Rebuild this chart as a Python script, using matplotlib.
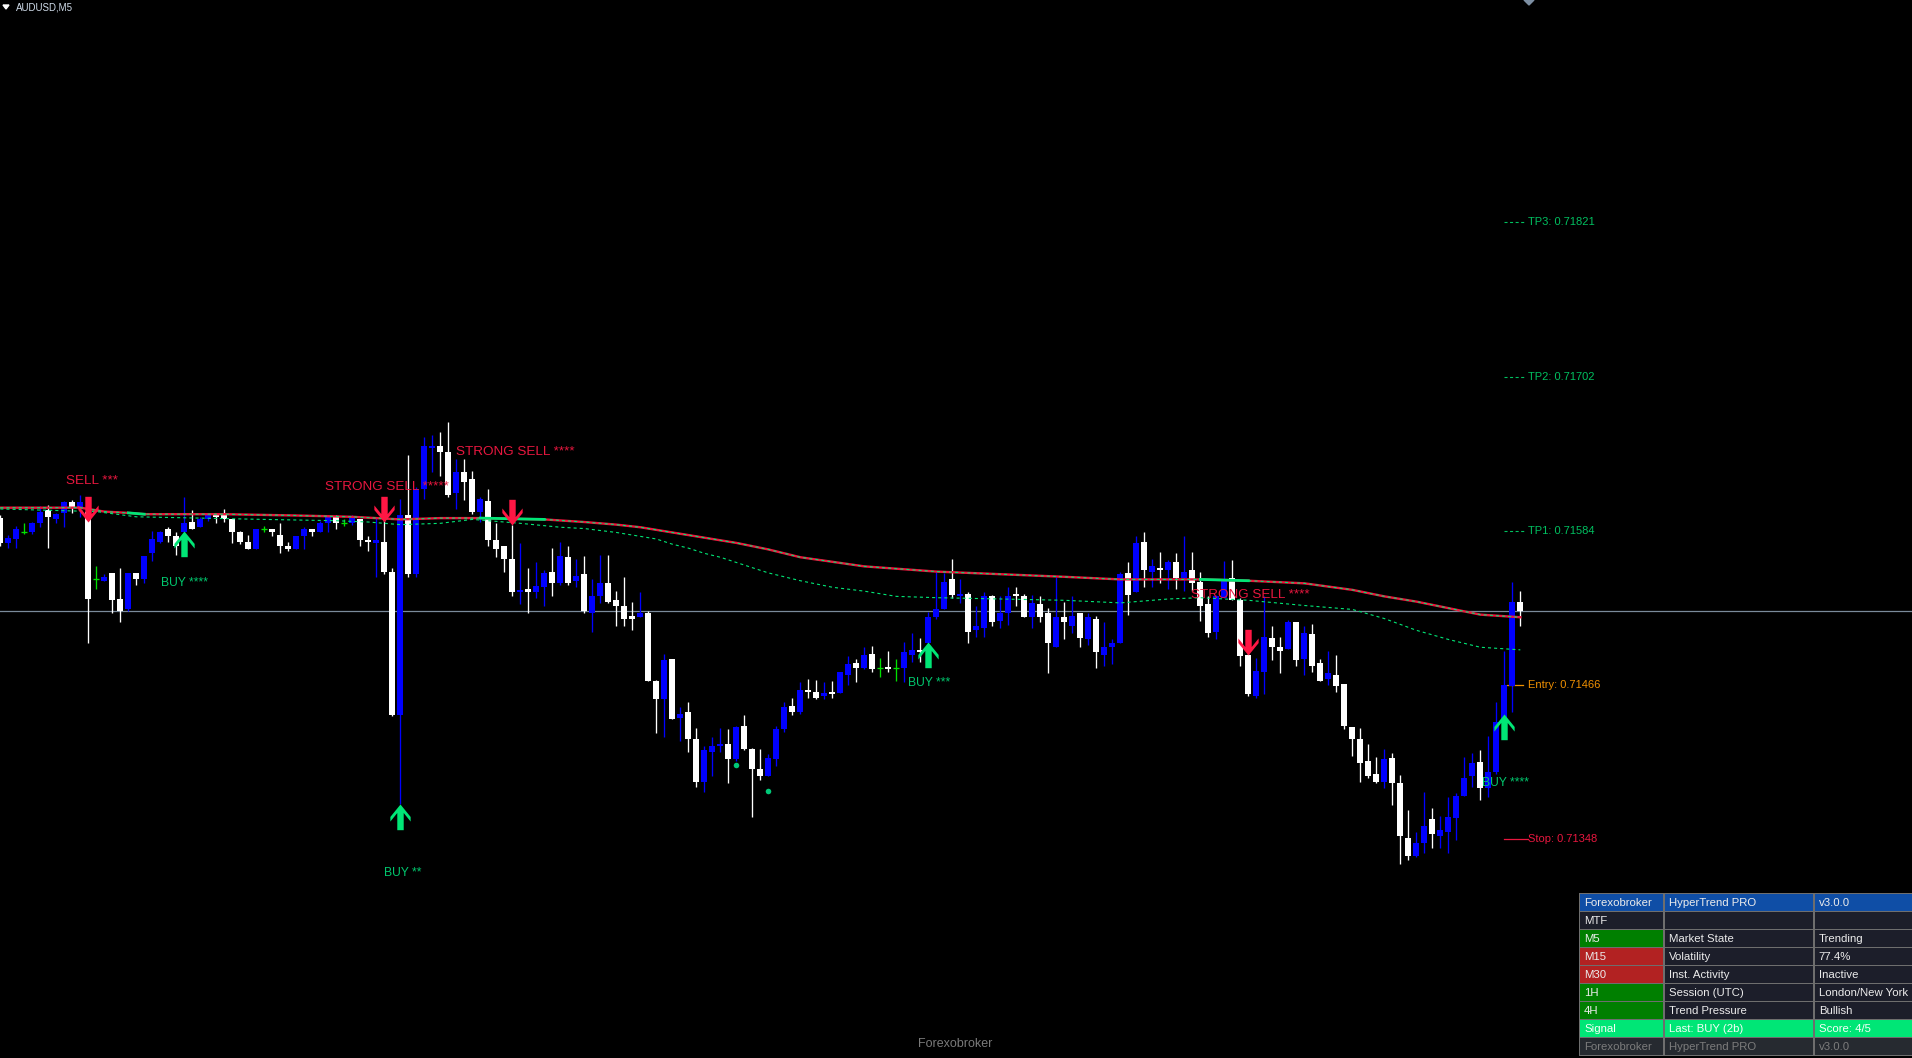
import numpy as np
import matplotlib.pyplot as plt
from matplotlib.path import Path
from matplotlib.patches import Rectangle, Polygon

plt.rcParams['font.family'] = ['Liberation Sans', 'DejaVu Sans']
plt.rcParams['lines.scale_dashes'] = False

# ---------------- data (AUDUSD M5) ----------------
opens = [
    0.71594, 0.71575, 0.71578, 0.71583, 0.71583, 0.71590, 0.71600, 0.71593, 0.71598, 0.71606,
    0.71602, 0.71599, 0.71547, 0.71546, 0.71552, 0.71532, 0.71524, 0.71552, 0.71547, 0.71567,
    0.71576, 0.71586, 0.71580, 0.71583, 0.71591, 0.71587, 0.71593, 0.71596, 0.71596, 0.71593,
    0.71583, 0.71576, 0.71570, 0.71586, 0.71586, 0.71581, 0.71573, 0.71570, 0.71580, 0.71586,
    0.71583, 0.71590, 0.71595, 0.71590, 0.71590, 0.71593, 0.71577, 0.71575, 0.71576, 0.71553,
    0.71443, 0.71596, 0.71551, 0.71616, 0.71648, 0.71649, 0.71645, 0.71613, 0.71629, 0.71624,
    0.71599, 0.71607, 0.71577, 0.71573, 0.71563, 0.71537, 0.71540, 0.71537, 0.71541, 0.71553,
    0.71544, 0.71564, 0.71546, 0.71551, 0.71521, 0.71534, 0.71544, 0.71531, 0.71527, 0.71519,
    0.71518, 0.71521, 0.71469, 0.71455, 0.71486, 0.71441, 0.71445, 0.71425, 0.71392, 0.71415,
    0.71419, 0.71421, 0.71409, 0.71435, 0.71417, 0.71402, 0.71396, 0.71409, 0.71432, 0.71450,
    0.71445, 0.71462, 0.71461, 0.71458, 0.71461, 0.71460, 0.71474, 0.71483, 0.71479, 0.71490,
    0.71479, 0.71480, 0.71479, 0.71479, 0.71489, 0.71493, 0.71498, 0.71518, 0.71524, 0.71547,
    0.71534, 0.71536, 0.71508, 0.71510, 0.71534, 0.71515, 0.71521, 0.71536, 0.71534, 0.71518,
    0.71528, 0.71521, 0.71495, 0.71518, 0.71511, 0.71521, 0.71501, 0.71517, 0.71489, 0.71495,
    0.71498, 0.71552, 0.71537, 0.71576, 0.71553, 0.71556, 0.71554, 0.71560, 0.71548, 0.71554,
    0.71545, 0.71528, 0.71507, 0.71533, 0.71548, 0.71531, 0.71489, 0.71458, 0.71476, 0.71502,
    0.71495, 0.71494, 0.71514, 0.71486, 0.71505, 0.71483, 0.71471, 0.71474, 0.71467, 0.71434,
    0.71425, 0.71408, 0.71398, 0.71392, 0.71410, 0.71391, 0.71349, 0.71335, 0.71345, 0.71363,
    0.71350, 0.71353, 0.71364, 0.71381, 0.71396, 0.71407, 0.71387, 0.71399, 0.71438, 0.71465,
    0.71530]
highs = [
    0.71596, 0.71581, 0.71588, 0.71590, 0.71591, 0.71603, 0.71604, 0.71598, 0.71607, 0.71608,
    0.71612, 0.71602, 0.71557, 0.71551, 0.71552, 0.71556, 0.71552, 0.71552, 0.71565, 0.71584,
    0.71584, 0.71587, 0.71583, 0.71610, 0.71600, 0.71595, 0.71597, 0.71597, 0.71601, 0.71593,
    0.71584, 0.71581, 0.71586, 0.71588, 0.71586, 0.71590, 0.71576, 0.71580, 0.71587, 0.71586,
    0.71592, 0.71596, 0.71596, 0.71593, 0.71596, 0.71593, 0.71580, 0.71595, 0.71593, 0.71556,
    0.71609, 0.71642, 0.71618, 0.71656, 0.71658, 0.71660, 0.71668, 0.71639, 0.71639, 0.71630,
    0.71610, 0.71616, 0.71590, 0.71573, 0.71589, 0.71575, 0.71556, 0.71560, 0.71554, 0.71571,
    0.71576, 0.71573, 0.71563, 0.71565, 0.71547, 0.71566, 0.71566, 0.71538, 0.71549, 0.71530,
    0.71537, 0.71523, 0.71470, 0.71490, 0.71486, 0.71449, 0.71453, 0.71433, 0.71419, 0.71426,
    0.71433, 0.71432, 0.71435, 0.71443, 0.71418, 0.71417, 0.71413, 0.71435, 0.71453, 0.71456,
    0.71468, 0.71471, 0.71470, 0.71468, 0.71469, 0.71476, 0.71488, 0.71486, 0.71495, 0.71496,
    0.71487, 0.71492, 0.71486, 0.71499, 0.71506, 0.71502, 0.71522, 0.71553, 0.71552, 0.71563,
    0.71547, 0.71537, 0.71527, 0.71537, 0.71535, 0.71534, 0.71541, 0.71541, 0.71536, 0.71535,
    0.71534, 0.71525, 0.71549, 0.71530, 0.71534, 0.71521, 0.71521, 0.71519, 0.71514, 0.71501,
    0.71553, 0.71560, 0.71580, 0.71583, 0.71563, 0.71568, 0.71562, 0.71567, 0.71580, 0.71568,
    0.71553, 0.71534, 0.71535, 0.71561, 0.71562, 0.71533, 0.71501, 0.71487, 0.71534, 0.71511,
    0.71503, 0.71516, 0.71514, 0.71511, 0.71513, 0.71486, 0.71492, 0.71489, 0.71467, 0.71434,
    0.71433, 0.71421, 0.71411, 0.71417, 0.71414, 0.71397, 0.71370, 0.71353, 0.71384, 0.71372,
    0.71366, 0.71380, 0.71383, 0.71411, 0.71414, 0.71416, 0.71427, 0.71453, 0.71492, 0.71545,
    0.71538]
lows = [
    0.71573, 0.71571, 0.71571, 0.71582, 0.71582, 0.71587, 0.71571, 0.71590, 0.71587, 0.71598,
    0.71595, 0.71498, 0.71540, 0.71546, 0.71521, 0.71514, 0.71523, 0.71543, 0.71544, 0.71561,
    0.71575, 0.71576, 0.71566, 0.71582, 0.71586, 0.71587, 0.71592, 0.71590, 0.71591, 0.71575,
    0.71574, 0.71570, 0.71570, 0.71583, 0.71580, 0.71567, 0.71569, 0.71570, 0.71570, 0.71580,
    0.71583, 0.71583, 0.71586, 0.71588, 0.71589, 0.71573, 0.71569, 0.71549, 0.71551, 0.71442,
    0.71375, 0.71549, 0.71549, 0.71609, 0.71629, 0.71626, 0.71610, 0.71601, 0.71608, 0.71597,
    0.71591, 0.71573, 0.71564, 0.71553, 0.71534, 0.71528, 0.71521, 0.71533, 0.71527, 0.71534,
    0.71543, 0.71543, 0.71541, 0.71521, 0.71507, 0.71529, 0.71529, 0.71511, 0.71511, 0.71508,
    0.71518, 0.71469, 0.71429, 0.71426, 0.71440, 0.71423, 0.71415, 0.71388, 0.71384, 0.71396,
    0.71415, 0.71391, 0.71408, 0.71416, 0.71365, 0.71393, 0.71396, 0.71404, 0.71430, 0.71443,
    0.71444, 0.71456, 0.71455, 0.71455, 0.71456, 0.71460, 0.71466, 0.71468, 0.71478, 0.71476,
    0.71472, 0.71476, 0.71469, 0.71468, 0.71484, 0.71484, 0.71498, 0.71517, 0.71524, 0.71533,
    0.71529, 0.71498, 0.71503, 0.71503, 0.71511, 0.71510, 0.71512, 0.71527, 0.71518, 0.71510,
    0.71514, 0.71475, 0.71495, 0.71501, 0.71506, 0.71495, 0.71497, 0.71479, 0.71481, 0.71482,
    0.71498, 0.71520, 0.71537, 0.71541, 0.71541, 0.71544, 0.71540, 0.71540, 0.71538, 0.71538,
    0.71515, 0.71503, 0.71501, 0.71533, 0.71531, 0.71481, 0.71458, 0.71456, 0.71459, 0.71485,
    0.71475, 0.71494, 0.71481, 0.71474, 0.71476, 0.71469, 0.71466, 0.71461, 0.71432, 0.71412,
    0.71392, 0.71395, 0.71391, 0.71387, 0.71374, 0.71329, 0.71332, 0.71334, 0.71337, 0.71341,
    0.71341, 0.71337, 0.71347, 0.71381, 0.71388, 0.71378, 0.71380, 0.71398, 0.71438, 0.71445,
    0.71511]
closes = [
    0.71575, 0.71579, 0.71586, 0.71583, 0.71590, 0.71599, 0.71595, 0.71597, 0.71606, 0.71602,
    0.71606, 0.71532, 0.71547, 0.71549, 0.71531, 0.71523, 0.71552, 0.71547, 0.71565, 0.71578,
    0.71583, 0.71580, 0.71573, 0.71590, 0.71586, 0.71593, 0.71596, 0.71595, 0.71593, 0.71583,
    0.71576, 0.71570, 0.71586, 0.71586, 0.71583, 0.71573, 0.71570, 0.71580, 0.71586, 0.71583,
    0.71590, 0.71595, 0.71590, 0.71590, 0.71594, 0.71577, 0.71576, 0.71577, 0.71553, 0.71443,
    0.71596, 0.71551, 0.71616, 0.71649, 0.71649, 0.71645, 0.71612, 0.71629, 0.71622, 0.71599,
    0.71609, 0.71577, 0.71570, 0.71563, 0.71537, 0.71539, 0.71537, 0.71542, 0.71552, 0.71544,
    0.71565, 0.71544, 0.71550, 0.71523, 0.71534, 0.71544, 0.71530, 0.71527, 0.71517, 0.71517,
    0.71521, 0.71469, 0.71455, 0.71485, 0.71440, 0.71444, 0.71425, 0.71392, 0.71416, 0.71419,
    0.71421, 0.71409, 0.71434, 0.71417, 0.71402, 0.71396, 0.71410, 0.71432, 0.71449, 0.71445,
    0.71462, 0.71461, 0.71456, 0.71460, 0.71459, 0.71476, 0.71482, 0.71479, 0.71489, 0.71478,
    0.71479, 0.71478, 0.71479, 0.71491, 0.71493, 0.71491, 0.71518, 0.71524, 0.71545, 0.71535,
    0.71536, 0.71507, 0.71511, 0.71534, 0.71514, 0.71521, 0.71534, 0.71534, 0.71518, 0.71529,
    0.71518, 0.71498, 0.71518, 0.71514, 0.71519, 0.71502, 0.71518, 0.71491, 0.71495, 0.71498,
    0.71551, 0.71535, 0.71575, 0.71554, 0.71557, 0.71554, 0.71560, 0.71548, 0.71553, 0.71544,
    0.71527, 0.71506, 0.71534, 0.71547, 0.71531, 0.71488, 0.71459, 0.71477, 0.71503, 0.71495,
    0.71492, 0.71514, 0.71485, 0.71506, 0.71481, 0.71469, 0.71475, 0.71465, 0.71435, 0.71425,
    0.71406, 0.71396, 0.71392, 0.71409, 0.71391, 0.71350, 0.71335, 0.71345, 0.71358, 0.71352,
    0.71355, 0.71365, 0.71381, 0.71395, 0.71406, 0.71387, 0.71399, 0.71438, 0.71466, 0.71530,
    0.71523]

# trend line (red, green while bullish) read at these bars
trend_idx = [0, 10, 13, 16, 18, 20, 28, 37, 44, 50, 55, 60, 68, 73, 77, 80, 83, 87, 92, 96,
             100, 108, 117, 125, 133, 140, 150, 156, 163, 169, 173, 177, 181, 185, 190]
trend_val = [0.71602, 0.71602, 0.71599, 0.71598, 0.71597, 0.71597, 0.71597, 0.71596, 0.71595, 0.71593,
             0.71594, 0.71594, 0.71593, 0.71591, 0.71589, 0.71587, 0.71584, 0.71580, 0.71575, 0.71570,
             0.71564, 0.71557, 0.71553, 0.71551, 0.71549, 0.71547, 0.71547, 0.71546, 0.71544, 0.71539,
             0.71534, 0.71530, 0.71525, 0.71520, 0.71518]
bull_spans = [(16, 18), (60, 68), (150, 156)]

# slower dotted signal line
slow_idx = [0, 12, 17, 25, 33, 42, 46, 50, 55, 59, 65, 70, 73, 77, 79, 82, 84, 86, 88, 90,
            94, 96, 98, 100, 104, 108, 112, 117, 125, 133, 140, 146, 150, 156, 163, 169, 173, 177,
            181, 185, 190]
slow_val = [0.71601, 0.71599, 0.71595, 0.71594, 0.71593, 0.71592, 0.71591, 0.71589, 0.71590, 0.71593,
            0.71590, 0.71587, 0.71586, 0.71583, 0.71581, 0.71578, 0.71574, 0.71571, 0.71567, 0.71564,
            0.71556, 0.71552, 0.71549, 0.71546, 0.71541, 0.71538, 0.71534, 0.71533, 0.71532, 0.71531,
            0.71529, 0.71532, 0.71533, 0.71531, 0.71527, 0.71524, 0.71517, 0.71508, 0.71501, 0.71495,
            0.71493]

dot_idx = [92, 96]
dot_price = [0.71405, 0.71385]

# signals
sig_idx = [11, 23, 48, 50, 64, 116, 156, 188]
sig_side = ['sell', 'buy', 'sell', 'buy', 'sell', 'buy', 'sell', 'buy']
sig_price = [0.71591, 0.71584, 0.71591, 0.71375, 0.71589, 0.71499, 0.71489, 0.71444]
sig_text = ['SELL ***', 'BUY ****', 'STRONG SELL *****', 'BUY **', 'STRONG SELL ****',
            'BUY ***', 'STRONG SELL ****', 'BUY ****']

tp_levels = [0.71584, 0.71702, 0.71821]
entry_price = 0.71466
stop_price = 0.71348

panel_tf = ['Forexobroker', 'MTF', 'M5', 'M15', 'M30', '1H', '4H', 'Signal', 'Forexobroker']
panel_name = ['HyperTrend PRO', '', 'Market State', 'Volatility', 'Inst. Activity',
              'Session (UTC)', 'Trend Pressure', 'Last: BUY (2b)', 'HyperTrend PRO']
panel_value = ['v3.0.0', '', 'Trending', '77.4%', 'Inactive', 'London/New York',
               'Bullish', 'Score: 4/5', 'v3.0.0']

# ---------------- layout / style ----------------
W, H = 1912, 1058
BLUE, WHITE, DOJI = '#0000ff', '#ffffff', '#00e000'
RED, GREEN = '#f0143c', '#00e676'
BUY_TXT, SELL_TXT = '#00c86e', '#e8173f'
label_offsets = [(-22, 41), (-23, -52), (-59, 35), (-16, -69), (-56, 73),
                 (-20, -41), (-57, 60), (-22, -69)]

fig = plt.figure(figsize=(W / 100, H / 100), dpi=100, facecolor='black')
ax = fig.add_axes([0, 0, 1, 1])
ax.set_facecolor('black')
ax.set_xlim(-0.04, 238.96)
ax.set_ylim(0.711801, 0.719912)
ax.axis('off')

o, h, l, c = (np.array(a) for a in (opens, highs, lows, closes))
x = np.arange(len(c))
up, dn, dj = c > o, c < o, c == o
min_body = 0.0000095
bw = 0.76

ax.axhline(c[-1], color='#7a8a9a', lw=0.9, zorder=1)

for mask, col in ((up, BLUE), (dn, WHITE)):
    ax.vlines(x[mask], l[mask], h[mask], color=col, lw=0.95, zorder=2)
    ax.bar(x[mask], np.maximum(np.abs(c[mask] - o[mask]), min_body),
           bottom=np.minimum(o[mask], c[mask]), width=bw, color=col,
           linewidth=0, antialiased=False, zorder=3)
ax.vlines(x[dj], l[dj], h[dj], color=DOJI, lw=0.95, zorder=2)
ax.hlines(c[dj], x[dj] - bw / 2, x[dj] + bw / 2, color=DOJI, lw=0.95, zorder=3)

# indicator lines
ax.plot(trend_idx, trend_val, color=RED, lw=1.7, zorder=4)
ax.plot(trend_idx, trend_val, color=GREEN, lw=0.8, dashes=(2.2, 2.2), zorder=5)
for a, b in bull_spans:
    sel = [k for k, i in enumerate(trend_idx) if a <= i <= b]
    ax.plot([trend_idx[k] for k in sel], [trend_val[k] for k in sel],
            color=GREEN, lw=2.0, zorder=6)
ax.plot(slow_idx, slow_val, color=GREEN, lw=0.8, dashes=(2.2, 2.2), zorder=4)
ax.scatter(dot_idx, dot_price, s=16, color='#00c878', zorder=6, linewidths=0)

# signal arrows (tip sits on the signal price)
up_verts = [(0, 0), (0.79, -0.97), (0.79, -1.33), (0.25, -0.66), (0.25, -2),
            (-0.25, -2), (-0.25, -0.66), (-0.79, -1.33), (-0.79, -0.97), (0, 0)]
up_arrow = Path(up_verts, closed=True)
dn_arrow = Path([(vx, -vy) for vx, vy in up_verts], closed=True)
for i, side, p, txt, (dx, dy) in zip(sig_idx, sig_side, sig_price, sig_text, label_offsets):
    buy = side == 'buy'
    ax.plot(i, p, marker=up_arrow if buy else dn_arrow, ms=37, mew=0,
            color=GREEN if buy else '#ff1744', zorder=8)
    ax.annotate(txt, xy=(i, p), xytext=(dx, dy), textcoords='offset pixels',
                ha='left', va='center', color=BUY_TXT if buy else SELL_TXT,
                fontsize=8.7 if buy else 9.7, zorder=9)

# trade levels
lx0, lx1, ltxt = 187.95, 190.6, 190.95
for k, lvl in enumerate(tp_levels):
    ax.plot([lx0, lx1], [lvl, lvl], color='#00c060', lw=0.8, dashes=(2.2, 1.8))
    ax.text(ltxt, lvl, f'TP{k + 1}: {lvl:.5f}', color='#00c060', fontsize=8, va='center')
ax.plot([lx0 + 0.4, lx1 - 0.3], [entry_price] * 2, color='#f09000', lw=0.9)
ax.text(ltxt, entry_price, f'Entry: {entry_price:.5f}', color='#f09000', fontsize=8, va='center')
ax.plot([lx0, lx1 + 0.4], [stop_price] * 2, color='#e8173f', lw=0.9)
ax.text(ltxt, stop_price, f'Stop: {stop_price:.5f}', color='#e8173f', fontsize=8, va='center')

# screen overlay in pixel coordinates
ov = fig.add_axes([0, 0, 1, 1])
ov.set_xlim(0, W)
ov.set_ylim(H, 0)
ov.axis('off')
ov.add_patch(Polygon([(3, 5), (9, 5), (6, 9)], color='white'))
ov.text(16, 7, 'AUDUSD,M5', color='#d0dcea', fontsize=7, va='center', ha='left')
ov.add_patch(Polygon([(1524, 0), (1534, 0), (1529, 5)], color='#7d8fa3'))
ov.text(955, 1044, 'Forexobroker', color='#7a7a7a', fontsize=9, ha='center', va='center')

# info panel
cols_x = [(1580, 1663.3), (1664.7, 1813.3), (1814.7, 1911.7)]
row_top, row_h, row_pitch = 894.3, 17, 18
tf_bg = ['#0f4ea6', '#1c1e2a', '#007f00', '#b22222', '#b22222', '#007f00', '#007f00',
         '#00e676', '#262a30']
other_bg = ['#0f4ea6'] + ['#1c1e2a'] * 6 + ['#00e676', '#262a30']
txt_col = ['#ececec'] * 7 + ['#f4fff8', '#7c7c7c']
ov.add_patch(Rectangle((1579, 893), W - 1579, 163, facecolor='#6e6e6e', lw=0))
for r in range(len(panel_tf)):
    y0 = row_top + r * row_pitch
    cells = (panel_tf[r], panel_name[r], panel_value[r])
    for k, (xa, xb) in enumerate(cols_x):
        bg = tf_bg[r] if k == 0 else other_bg[r]
        ov.add_patch(Rectangle((xa, y0), xb - xa, row_h, facecolor=bg, lw=0))
        ov.text(xa + 4, y0 + row_h / 2 + 0.5, cells[k], color=txt_col[r],
                fontsize=8.2, va='center', ha='left')

fig.savefig('out.png', dpi=100, facecolor='black')
